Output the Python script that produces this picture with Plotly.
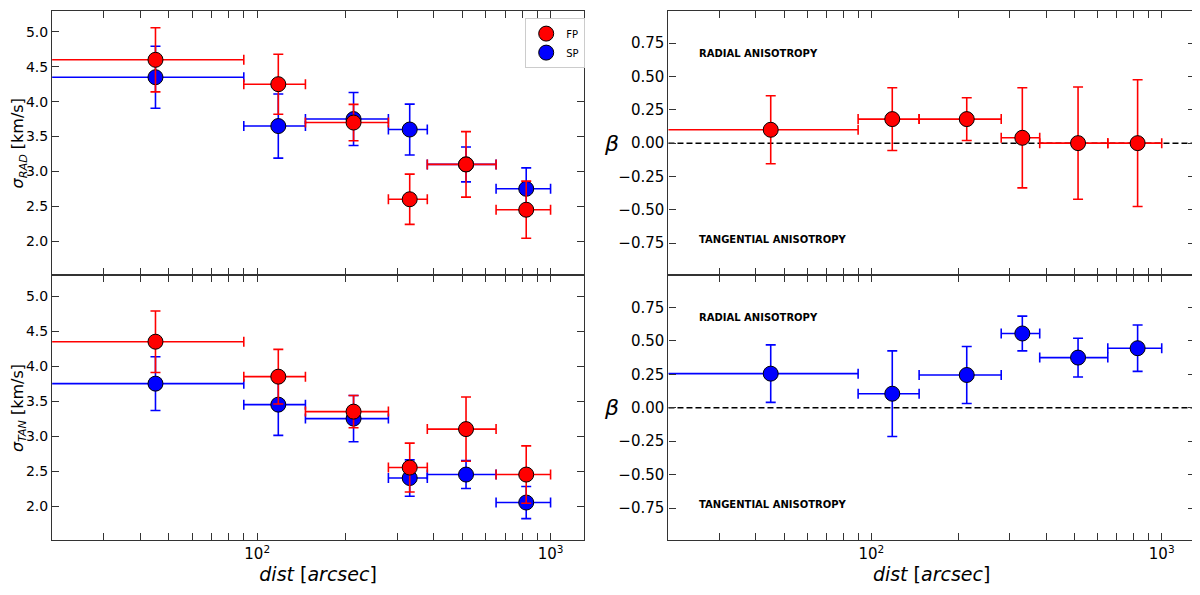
import numpy as np
import plotly.graph_objects as go

# radial bins (arcsec)
dist = [45, 118, 213, 331, 515, 826]
bin_lo = [10, 90, 146, 280, 380, 652]
bin_hi = [90, 146, 280, 380, 652, 1000]

# velocity dispersions [km/s]
sig_rad_fp = [4.60, 4.25, 3.70, 2.60, 3.10, 2.45]
sig_rad_fp_err = [0.46, 0.43, 0.26, 0.36, 0.47, 0.41]
sig_rad_sp = [4.35, 3.65, 3.75, 3.60, 3.10, 2.75]
sig_rad_sp_err = [0.445, 0.46, 0.38, 0.365, 0.25, 0.30]

sig_tan_fp = [4.35, 3.85, 3.35, 2.55, 3.10, 2.45]
sig_tan_fp_err = [0.44, 0.39, 0.23, 0.35, 0.46, 0.41]
sig_tan_sp = [3.75, 3.45, 3.25, 2.40, 2.45, 2.05]
sig_tan_sp_err = [0.385, 0.44, 0.33, 0.26, 0.20, 0.23]

# anisotropy
beta_fp = [0.10, 0.18, 0.18, 0.04, 0.0, 0.0]
beta_fp_err = [0.255, 0.235, 0.16, 0.375, 0.42, 0.475]
beta_sp = [0.255, 0.105, 0.245, 0.555, 0.375, 0.445]
beta_sp_err = [0.215, 0.32, 0.213, 0.13, 0.145, 0.173]

sig_ticks = [2.0, 2.5, 3.0, 3.5, 4.0, 4.5, 5.0]
beta_ticks = [-0.75, -0.5, -0.25, 0.0, 0.25, 0.5, 0.75]

RED = "#ff0000"
BLUE = "#0000ff"
FONT = "DejaVu Sans"

xerr_plus = [h - c for h, c in zip(bin_hi, dist)]
xerr_minus = [c - l for c, l in zip(dist, bin_lo)]


def points(y, yerr, color, name, xa, ya, legend=False, rank=1):
    return go.Scatter(
        x=dist, y=y, mode="markers", name=name,
        xaxis=xa, yaxis=ya, showlegend=legend, legendrank=rank,
        marker=dict(size=15, color=color, line=dict(color="black", width=1)),
        error_y=dict(type="data", array=yerr, color=color, thickness=1.6, width=5),
        error_x=dict(type="data", symmetric=False, array=xerr_plus,
                     arrayminus=xerr_minus, color=color, thickness=1.6, width=5),
    )


fig = go.Figure()
# blue drawn first so red sits on top
fig.add_trace(points(sig_rad_sp, sig_rad_sp_err, BLUE, "SP", "x", "y", True, 2))
fig.add_trace(points(sig_rad_fp, sig_rad_fp_err, RED, "FP", "x", "y", True, 1))
fig.add_trace(points(sig_tan_sp, sig_tan_sp_err, BLUE, "SP", "x2", "y2"))
fig.add_trace(points(sig_tan_fp, sig_tan_fp_err, RED, "FP", "x2", "y2"))
fig.add_trace(points(beta_fp, beta_fp_err, RED, "FP", "x3", "y3"))
fig.add_trace(points(beta_sp, beta_sp_err, BLUE, "SP", "x4", "y4"))

minor_vals = [20, 30, 40, 50, 60, 70, 80, 90, 200, 300, 400, 500, 600, 700, 800, 900]
xrange_log = [np.log10(20), np.log10(1300)]


def xaxis(domain, anchor, labels):
    return dict(
        type="log", domain=domain, anchor=anchor, range=xrange_log,
        showline=True, linecolor="#333", linewidth=1.3, mirror="allticks",
        showgrid=False, zeroline=False,
        ticks="inside", ticklen=7, tickwidth=1.2, tickcolor="#333",
        tickmode="array", tickvals=[100, 1000],
        ticktext=["10<sup>2</sup>", "10<sup>3</sup>"],
        showticklabels=labels,
        tickfont=dict(family=FONT, size=15, color="black"),
        minor=dict(tickmode="array", tickvals=minor_vals, ticks="inside",
                   ticklen=7, tickwidth=1.2, tickcolor="#333"),
        title=dict(text="<i>dist</i> [<i>arcsec</i>]" if labels else "",
                   font=dict(family=FONT, size=19, color="black"), standoff=4),
        automargin=False,
    )


def yaxis(domain, anchor, vals, fmt, rng, size):
    return dict(
        domain=domain, anchor=anchor, range=rng,
        showline=True, linecolor="#333", linewidth=1.3, mirror="allticks",
        showgrid=False, zeroline=False,
        ticks="inside", ticklen=7, tickwidth=1.2, tickcolor="#333",
        tickmode="array", tickvals=vals,
        ticktext=[(fmt % v).replace("-", "\u2212") for v in vals],
        tickfont=dict(family=FONT, size=size, color="black"),
        automargin=False,
    )


# page body adds an 8px offset, domains compensate for it
top = [0.5508, 0.995]
bot = [0.1054, 0.5508]
left = [0.0368, 0.48]
right = [0.5504, 0.989]

fig.update_layout(
    width=1200, height=595,
    margin=dict(l=0, r=0, t=0, b=0),
    paper_bgcolor="white", plot_bgcolor="white",
    font=dict(family=FONT, color="black"),
    xaxis=xaxis(left, "y", False),
    xaxis2=xaxis(left, "y2", True),
    xaxis3=xaxis(right, "y3", False),
    xaxis4=xaxis(right, "y4", True),
    yaxis=yaxis(top, "x", sig_ticks, "%.1f", [1.51, 5.3], 14),
    yaxis2=yaxis(bot, "x2", sig_ticks, "%.1f", [1.51, 5.3], 14),
    yaxis3=yaxis(top, "x3", beta_ticks, "%.2f", [-0.99, 0.99], 15),
    yaxis4=yaxis(bot, "x4", beta_ticks, "%.2f", [-0.99, 0.99], 15),
    legend=dict(x=0.481, y=0.983, xanchor="right", yanchor="top",
                bgcolor="white", bordercolor="#cccccc", borderwidth=1,
                font=dict(family=FONT, size=10), tracegroupgap=0),
    showlegend=True,
)

# y titles of the dispersion panels
for ya, label in [("y", "<i>σ<sub>RAD</sub></i> [km/s]"),
                  ("y2", "<i>σ<sub>TAN</sub></i> [km/s]")]:
    fig.add_annotation(xref="paper", yref=ya + " domain", x=-0.001, y=0.5,
                       xanchor="left", yanchor="middle", textangle=-90,
                       text=label, showarrow=False, borderpad=0,
                       font=dict(family=FONT, size=16, color="black"))

# zero line and labels on the anisotropy panels
for ya, xa in [("y3", "x3"), ("y4", "x4")]:
    fig.add_shape(type="line", xref=xa + " domain", yref=ya, x0=0, x1=1, y0=0, y1=0,
                  line=dict(color="black", width=1.5, dash="6px,3px"), layer="below")
    fig.add_annotation(xref=xa, yref=ya, x=np.log10(25), y=0.675, xanchor="left",
                       text="<b>RADIAL ANISOTROPY</b>", showarrow=False,
                       font=dict(family=FONT, size=10, color="black"))
    fig.add_annotation(xref=xa, yref=ya, x=np.log10(25), y=-0.72, xanchor="left",
                       text="<b>TANGENTIAL ANISOTROPY</b>", showarrow=False,
                       font=dict(family=FONT, size=10, color="black"))
    fig.add_annotation(xref="paper", yref=ya + " domain", x=0.503, y=0.5,
                       text="<i>β</i>", showarrow=False,
                       font=dict(family=FONT, size=22, color="black"))

fig.write_html("out.html")
